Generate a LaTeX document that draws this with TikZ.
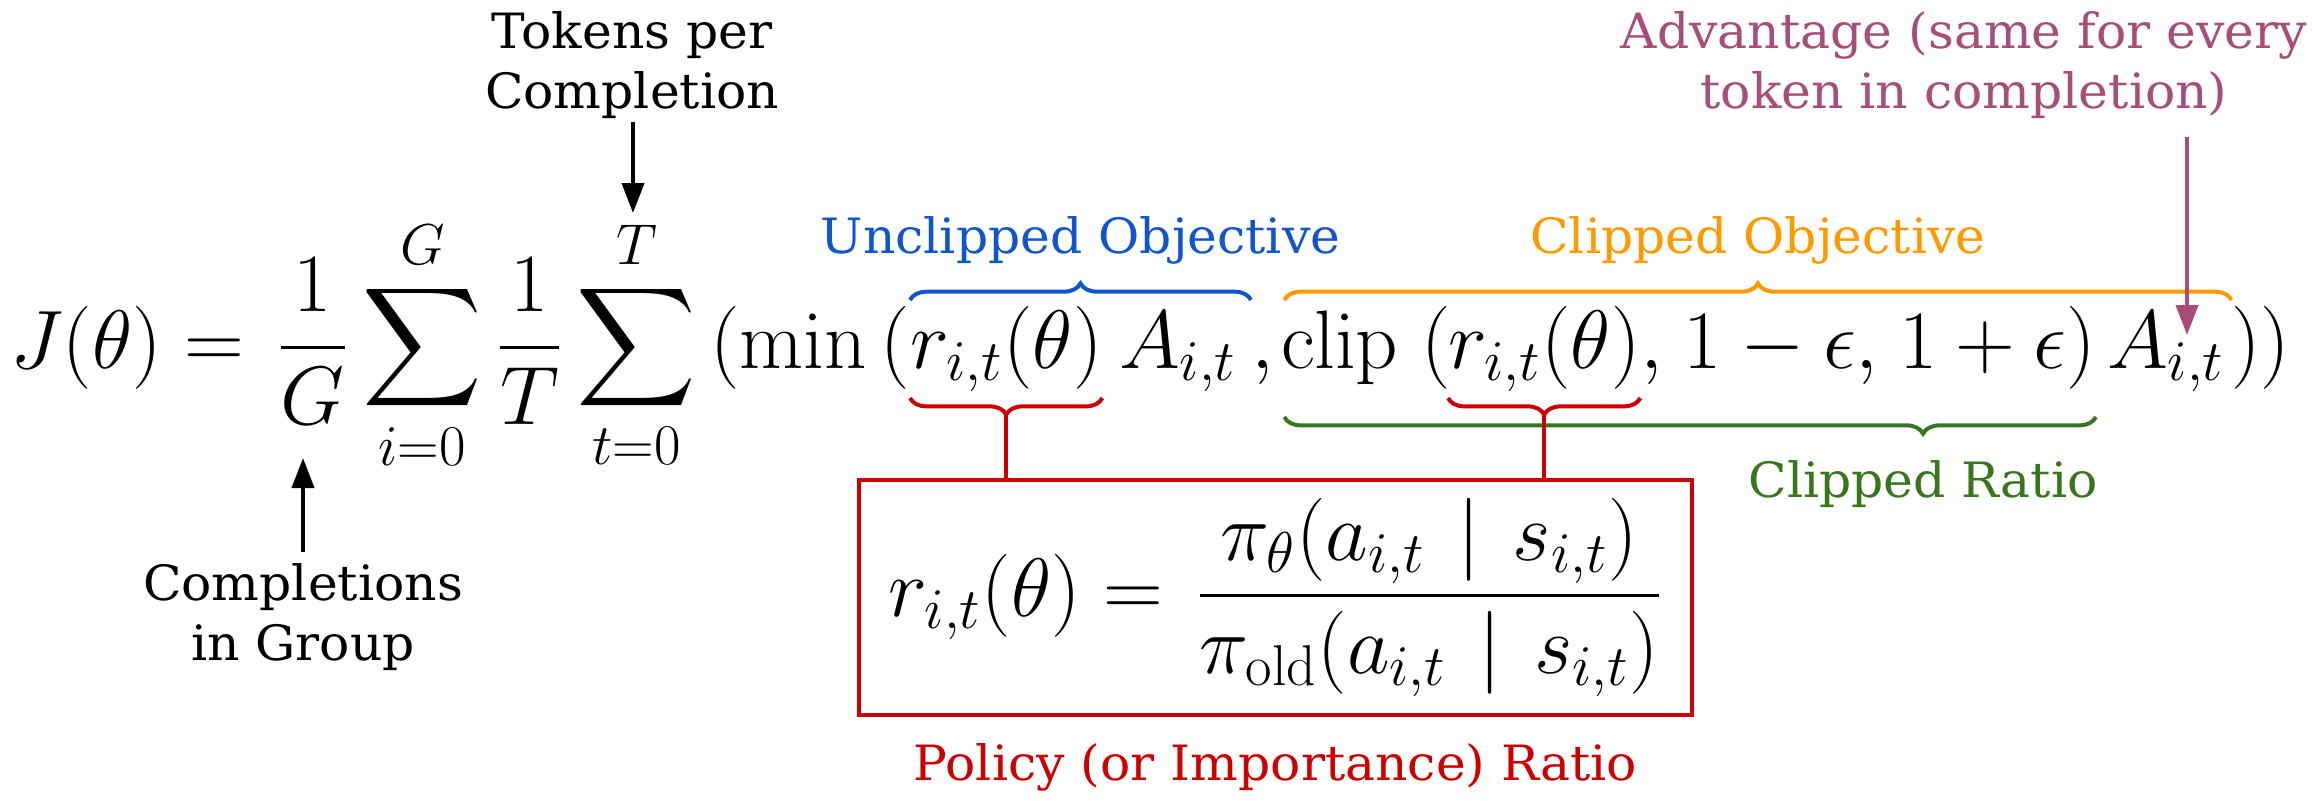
\documentclass[tikz,border=0pt]{standalone}
\usepackage{amsmath}
\usepackage[no-math]{fontspec}
\newfontfamily\labelfont[FakeStretch=1.035]{DejaVu Serif}
\usetikzlibrary{decorations.pathreplacing,arrows.meta}
\definecolor{cblue}{HTML}{1155CC}
\definecolor{corange}{HTML}{FF9900}
\definecolor{cgreen}{HTML}{38761D}
\definecolor{cred}{HTML}{CC0000}
\definecolor{cpurple}{HTML}{A64D79}
\tikzset{
  eq/.style={inner sep=0pt, outer sep=0pt, anchor=base west, font=\fontsize{24}{29}\selectfont},
  lbl/.style={font=\labelfont\fontsize{14.6}{18}\selectfont, align=center, inner sep=0pt, anchor=base},
  bracec/.style={decorate, decoration={brace, amplitude=5pt}, line width=1.2pt},
  arr/.style={line width=1.2pt, -{Triangle[width=6.6pt,length=9pt]}},
  conn/.style={draw=cred, line width=1.2pt},
}
\newcommand{\bmid}{\mkern2mu\mid\mkern2mu}
\begin{document}
\begin{tikzpicture}[x=0.3pt,y=-0.3pt]
\useasboundingbox (0,0) rectangle (2314,800);
% main equation, pieces placed along the baseline
\node[eq] (r1) at (910,368) {$r_{i,t}(\theta)$};
\node[eq, anchor=base east] (e1) at (r1.base west) {$\displaystyle J(\theta)=\mkern2mu\frac{1}{G}\sum_{i=0}^{G}\frac{1}{T}\sum_{t=0}^{T}\,(\min\,($};
\node[eq] (a1) at (1119,368) {$A_{i,t}$};
\node[eq] (cm) at (1251,368) {$,$};
\node[eq] (clip) at (1281,368) {$\operatorname{clip}\;($};
\node[eq] (r2) at (1448,368) {$r_{i,t}(\theta)$};
\node[eq] (rest) at (r2.base east) {$,\mkern1.5mu 1-\epsilon,\mkern1.5mu 1+\epsilon)$};
\node[eq] (a2) at (2107,368) {$A_{i,t}$};
\node[eq] (cl) at ([xshift=2pt]a2.base east) {$))$};
% ratio box
\node[draw=cred, line width=1.1pt, minimum width=249.9pt, minimum height=70.5pt, inner sep=0pt,
      font=\fontsize{24}{29}\selectfont] (box) at (1275.5,597.5)
  {$\displaystyle r_{i,t}(\theta)=\mkern2mu\frac{\pi_\theta(a_{i,t}\bmid s_{i,t})}{\pi_{\mathrm{old}}(a_{i,t}\bmid s_{i,t})}$};
\node[lbl, text=cred] (pol) at (1275.5,780) {Policy (or Importance) Ratio};
% over braces
\draw[bracec, cblue] (r1.west |- 0,300) -- (cm.west |- 0,300)
  node[midway, lbl, text=cblue, yshift=14.1pt] (unc) {Unclipped Objective};
\draw[bracec, corange] ([xshift=1pt]clip.west |- 0,300) -- (cl.west |- 0,300)
  node[midway, lbl, text=corange, yshift=14.1pt] (cob) {Clipped Objective};
% under braces
\draw[bracec, cgreen, decoration={aspect=0.213}] (rest.east |- 0,417) -- ([xshift=1pt]clip.west |- 0,417)
  node[pos=0.213, lbl, text=cgreen, yshift=-24pt] (cra) {Clipped Ratio};
\draw[bracec, cred] (r1.east |- 0,398) -- (r1.west |- 0,398) coordinate[midway] (t1);
\draw[bracec, cred] (r2.east |- 0,398) -- (r2.west |- 0,398) coordinate[midway] (t2);
\draw[conn] ([yshift=-4.5pt]t1) -- (t1 |- box.north);
\draw[conn] ([yshift=-4.5pt]t2) -- (t2 |- box.north);
% black annotations
\node[lbl] (tok) at (632,108) {Tokens per\\Completion};
\coordinate (tokTop) at (633,122);
\coordinate (tokTip) at (633,213);
\draw[arr] (tokTop) -- (tokTip);
\node[lbl] (cig) at (303,660) {Completions\\in Group};
\coordinate (cigBot) at (303,552);
\coordinate (cigTip) at (303,458);
\draw[arr] (cigBot) -- (cigTip);
% advantage
\node[lbl, text=cpurple] (adv) at (1964,108) {Advantage (same for every\\token in completion)};
\coordinate (advTop) at (2187,137);
\coordinate (advTip) at (2187,335);
\draw[arr, cpurple] (advTop) -- (advTip);
\end{tikzpicture}
\end{document}
